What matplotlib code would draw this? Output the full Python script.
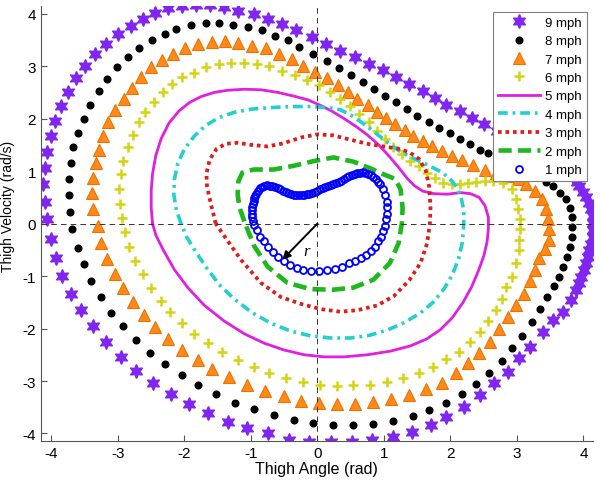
import numpy as np
import matplotlib
matplotlib.use('Agg')
import matplotlib.pyplot as plt

# thigh angle (rad), thigh velocity (rad/s), one loop per speed
mph9 = [(-4.07, 0.08), (-4.09, 0.41), (-4.12, 0.75), (-4.10, 1.06), (-4.07, 1.36), (-4.01, 1.67),
        (-3.95, 1.96), (-3.86, 2.24), (-3.75, 2.51), (-3.63, 2.77), (-3.50, 3.01), (-3.34, 3.23),
        (-3.18, 3.42), (-3.00, 3.61), (-2.80, 3.77), (-2.63, 3.90), (-2.44, 4.02), (-2.25, 4.10),
        (-2.04, 4.15), (-1.83, 4.17), (-1.62, 4.17), (-1.40, 4.12), (-1.19, 4.06), (-0.96, 4.00),
        (-0.75, 3.90), (-0.53, 3.80), (-0.33, 3.68), (-0.08, 3.55), (0.13, 3.42), (0.34, 3.29),
        (0.56, 3.17), (0.77, 3.04), (0.98, 2.93), (1.18, 2.80), (1.38, 2.66), (1.58, 2.53),
        (1.77, 2.40), (1.94, 2.26), (2.14, 2.15), (2.33, 2.02), (2.50, 1.89), (2.70, 1.76),
        (2.89, 1.61), (3.09, 1.45), (3.30, 1.30), (3.49, 1.17), (3.67, 1.03), (3.84, 0.88),
        (3.90, 0.80), (3.94, 0.71), (3.99, 0.61), (4.04, 0.50), (4.08, 0.39), (4.12, 0.27),
        (4.14, 0.14), (4.15, 0.02), (4.15, -0.12), (4.14, -0.25), (4.12, -0.38), (4.09, -0.50),
        (4.07, -0.63), (4.04, -0.75), (4.01, -0.88), (3.97, -1.01), (3.93, -1.14), (3.89, -1.26),
        (3.81, -1.45), (3.69, -1.68), (3.54, -1.84), (3.39, -2.07), (3.20, -2.35), (3.03, -2.57),
        (2.87, -2.83), (2.65, -3.04), (2.44, -3.27), (2.21, -3.50), (1.94, -3.69), (1.70, -3.84),
        (1.42, -3.97), (1.13, -4.07), (0.82, -4.13), (0.52, -4.17), (0.21, -4.17), (-0.12, -4.17),
        (-0.43, -4.12), (-0.75, -4.00), (-1.06, -3.90), (-1.35, -3.78), (-1.65, -3.61), (-1.93, -3.44),
        (-2.20, -3.25), (-2.48, -3.04), (-2.73, -2.80), (-2.95, -2.54), (-3.18, -2.25), (-3.38, -1.96),
        (-3.55, -1.64), (-3.70, -1.34), (-3.84, -1.00), (-3.93, -0.66), (-4.01, -0.30)]

mph8 = [(-3.69, -0.11), (-3.72, 0.22), (-3.74, 0.54), (-3.74, 0.84), (-3.71, 1.15), (-3.68, 1.45),
        (-3.60, 1.73), (-3.51, 2.00), (-3.42, 2.26), (-3.29, 2.53), (-3.16, 2.75), (-3.01, 2.98),
        (-2.85, 3.17), (-2.68, 3.34), (-2.49, 3.50), (-2.30, 3.61), (-2.12, 3.71), (-1.90, 3.79),
        (-1.68, 3.82), (-1.48, 3.82), (-1.27, 3.79), (-1.05, 3.74), (-0.84, 3.68), (-0.64, 3.58),
        (-0.45, 3.49), (-0.28, 3.37), (-0.06, 3.23), (0.15, 3.10), (0.32, 2.96), (0.51, 2.83),
        (0.69, 2.69), (0.85, 2.56), (1.02, 2.43), (1.18, 2.31), (1.34, 2.18), (1.50, 2.05),
        (1.67, 1.94), (1.83, 1.83), (1.99, 1.72), (2.15, 1.61), (2.30, 1.51), (2.44, 1.41),
        (2.57, 1.34), (2.74, 1.22), (2.92, 1.11), (3.12, 0.99), (3.31, 0.88), (3.44, 0.80),
        (3.54, 0.71), (3.64, 0.59), (3.74, 0.46), (3.79, 0.30), (3.82, 0.13), (3.83, -0.06),
        (3.82, -0.25), (3.79, -0.44), (3.75, -0.63), (3.69, -0.82), (3.63, -1.01), (3.55, -1.19),
        (3.45, -1.40), (3.34, -1.63), (3.22, -1.88), (3.08, -2.14), (2.93, -2.37), (2.77, -2.62),
        (2.58, -2.85), (2.39, -3.06), (2.18, -3.25), (1.93, -3.42), (1.67, -3.56), (1.43, -3.67),
        (1.14, -3.77), (0.84, -3.81), (0.54, -3.83), (0.24, -3.83), (-0.06, -3.80), (-0.36, -3.75),
        (-0.66, -3.65), (-0.96, -3.54), (-1.24, -3.41), (-1.52, -3.25), (-1.79, -3.08), (-2.04, -2.89),
        (-2.29, -2.68), (-2.52, -2.46), (-2.73, -2.22), (-2.92, -1.96), (-3.10, -1.70), (-3.26, -1.40),
        (-3.40, -1.10), (-3.51, -0.77), (-3.60, -0.46)]

mph7 = [(-3.30, -0.05), (-3.38, 0.27), (-3.39, 0.59), (-3.38, 0.87), (-3.33, 1.16), (-3.29, 1.40),
        (-3.23, 1.67), (-3.15, 1.93), (-3.04, 2.16), (-2.91, 2.38), (-2.79, 2.59), (-2.65, 2.80),
        (-2.50, 2.98), (-2.34, 3.12), (-2.17, 3.24), (-1.99, 3.34), (-1.80, 3.42), (-1.59, 3.46),
        (-1.39, 3.47), (-1.19, 3.44), (-0.98, 3.39), (-0.78, 3.34), (-0.58, 3.23), (-0.38, 3.14),
        (-0.21, 3.01), (-0.03, 2.88), (0.15, 2.77), (0.31, 2.64), (0.46, 2.50), (0.60, 2.37),
        (0.76, 2.26), (0.90, 2.13), (1.03, 2.02), (1.17, 1.89), (1.31, 1.78), (1.44, 1.67),
        (1.58, 1.57), (1.72, 1.48), (1.87, 1.38), (2.02, 1.29), (2.17, 1.21), (2.34, 1.11),
        (2.52, 1.03), (2.69, 0.97), (2.87, 0.90), (3.02, 0.84), (3.14, 0.75), (3.27, 0.62),
        (3.37, 0.46), (3.44, 0.27), (3.47, 0.08), (3.48, -0.11), (3.48, -0.31), (3.42, -0.48),
        (3.33, -0.66), (3.27, -0.88), (3.19, -1.10), (3.10, -1.34), (2.99, -1.55), (2.87, -1.78),
        (2.73, -2.01), (2.59, -2.25), (2.43, -2.46), (2.27, -2.66), (2.08, -2.85), (1.88, -3.03),
        (1.63, -3.16), (1.37, -3.26), (1.10, -3.35), (0.84, -3.40), (0.57, -3.43), (0.30, -3.43),
        (0.03, -3.42), (-0.25, -3.38), (-0.51, -3.28), (-0.79, -3.19), (-1.06, -3.07), (-1.33, -2.93),
        (-1.59, -2.78), (-1.80, -2.60), (-2.04, -2.41), (-2.25, -2.20), (-2.45, -1.98), (-2.61, -1.74),
        (-2.78, -1.49), (-2.93, -1.23), (-3.05, -0.96), (-3.17, -0.67), (-3.26, -0.37)]

mph6 = [(-2.94, 0.11), (-2.97, 0.38), (-2.98, 0.65), (-2.96, 0.94), (-2.92, 1.19), (-2.85, 1.45),
        (-2.78, 1.68), (-2.68, 1.93), (-2.60, 2.12), (-2.46, 2.32), (-2.33, 2.50), (-2.19, 2.66),
        (-2.04, 2.79), (-1.86, 2.87), (-1.68, 2.98), (-1.48, 3.04), (-1.30, 3.06), (-1.11, 3.06),
        (-0.91, 3.04), (-0.73, 3.00), (-0.53, 2.91), (-0.34, 2.83), (-0.15, 2.74), (0.02, 2.64),
        (0.19, 2.51), (0.34, 2.38), (0.49, 2.24), (0.63, 2.08), (0.77, 1.93), (0.90, 1.76),
        (1.02, 1.61), (1.14, 1.45), (1.27, 1.32), (1.39, 1.20), (1.52, 1.10), (1.64, 0.97),
        (1.77, 0.87), (1.89, 0.78), (2.02, 0.75), (2.14, 0.75), (2.27, 0.78), (2.39, 0.79),
        (2.52, 0.81), (2.64, 0.81), (2.79, 0.78), (2.92, 0.65), (2.99, 0.46), (3.02, 0.27),
        (3.04, 0.08), (3.04, -0.11), (3.03, -0.31), (3.03, -0.50), (2.99, -0.75), (2.92, -1.01),
        (2.84, -1.20), (2.77, -1.43), (2.68, -1.64), (2.57, -1.85), (2.44, -2.06), (2.29, -2.25),
        (2.13, -2.44), (1.93, -2.58), (1.73, -2.74), (1.52, -2.84), (1.29, -2.94), (1.05, -3.02),
        (0.79, -3.07), (0.54, -3.08), (0.30, -3.09), (0.04, -3.07), (-0.21, -3.02), (-0.48, -2.94),
        (-0.73, -2.84), (-0.96, -2.74), (-1.20, -2.60), (-1.44, -2.45), (-1.65, -2.28), (-1.85, -2.10),
        (-2.04, -1.89), (-2.21, -1.68), (-2.36, -1.47), (-2.50, -1.22), (-2.63, -0.96), (-2.74, -0.72),
        (-2.84, -0.45), (-2.90, -0.17)]

mph5 = [(-2.48, 0.00), (-2.50, 0.30), (-2.50, 0.62), (-2.48, 0.95), (-2.43, 1.30), (-2.35, 1.62),
        (-2.23, 1.92), (-2.08, 2.15), (-1.92, 2.31), (-1.75, 2.42), (-1.55, 2.50), (-1.35, 2.54),
        (-1.10, 2.56), (-0.85, 2.55), (-0.60, 2.50), (-0.36, 2.43), (-0.15, 2.36), (0.05, 2.25),
        (0.22, 2.14), (0.40, 2.00), (0.58, 1.85), (0.75, 1.69), (0.92, 1.50), (1.08, 1.28),
        (1.22, 1.07), (1.35, 0.86), (1.46, 0.72), (1.58, 0.62), (1.75, 0.57), (1.95, 0.56),
        (2.15, 0.59), (2.30, 0.57), (2.43, 0.50), (2.52, 0.34), (2.57, 0.12), (2.57, -0.10),
        (2.55, -0.35), (2.50, -0.62), (2.42, -0.90), (2.32, -1.20), (2.19, -1.50), (2.03, -1.79),
        (1.85, -2.02), (1.64, -2.20), (1.40, -2.33), (1.10, -2.43), (0.75, -2.50), (0.40, -2.54),
        (0.10, -2.54), (-0.20, -2.50), (-0.50, -2.41), (-0.80, -2.28), (-1.10, -2.10), (-1.40, -1.86),
        (-1.70, -1.56), (-1.95, -1.22), (-2.15, -0.88), (-2.32, -0.50), (-2.43, -0.22)]

mph4 = [(-2.05, 0.00), (-2.12, 0.25), (-2.16, 0.55), (-2.15, 0.85), (-2.10, 1.15), (-2.00, 1.42),
        (-1.85, 1.67), (-1.68, 1.87), (-1.48, 2.02), (-1.25, 2.12), (-1.00, 2.18), (-0.70, 2.21),
        (-0.40, 2.23), (-0.10, 2.23), (0.15, 2.21), (0.34, 2.17), (0.50, 2.07), (0.65, 1.94),
        (0.80, 1.80), (0.95, 1.65), (1.10, 1.50), (1.25, 1.37), (1.40, 1.27), (1.55, 1.18),
        (1.70, 1.09), (1.85, 0.99), (1.98, 0.87), (2.09, 0.70), (2.16, 0.50), (2.20, 0.25),
        (2.20, 0.00), (2.18, -0.35), (2.12, -0.68), (2.03, -0.97), (1.90, -1.25), (1.74, -1.50),
        (1.54, -1.71), (1.30, -1.89), (1.05, -2.03), (0.78, -2.13), (0.50, -2.18), (0.20, -2.18),
        (-0.10, -2.14), (-0.40, -2.05), (-0.70, -1.90), (-0.98, -1.70), (-1.25, -1.44), (-1.48, -1.16),
        (-1.68, -0.82), (-1.85, -0.50), (-1.97, -0.25)]

mph3 = [(-1.53, 0.00), (-1.60, 0.36), (-1.66, 0.70), (-1.67, 0.95), (-1.62, 1.22), (-1.52, 1.42),
        (-1.38, 1.52), (-1.20, 1.54), (-1.00, 1.50), (-0.75, 1.47), (-0.51, 1.53), (-0.25, 1.64),
        (0.00, 1.70), (0.24, 1.68), (0.49, 1.60), (0.75, 1.52), (0.99, 1.47), (1.20, 1.43),
        (1.38, 1.36), (1.53, 1.23), (1.63, 1.00), (1.68, 0.70), (1.70, 0.30), (1.69, 0.00),
        (1.65, -0.37), (1.55, -0.75), (1.38, -1.08), (1.15, -1.38), (0.90, -1.56), (0.60, -1.65),
        (0.34, -1.68), (0.05, -1.63), (-0.25, -1.53), (-0.55, -1.40), (-0.85, -1.13), (-1.15, -0.69),
        (-1.40, -0.24)]

mph2 = [(-1.10, 0.04), (-1.17, 0.30), (-1.20, 0.55), (-1.19, 0.80), (-1.13, 0.97), (-0.96, 1.03),
        (-0.66, 1.03), (-0.36, 1.10), (-0.06, 1.19), (0.24, 1.26), (0.54, 1.18), (0.80, 1.05),
        (0.99, 0.94), (1.17, 0.85), (1.25, 0.65), (1.28, 0.30), (1.27, 0.01), (1.22, -0.37),
        (1.09, -0.75), (0.84, -1.07), (0.54, -1.22), (0.24, -1.26), (-0.10, -1.25), (-0.45, -1.13),
        (-0.75, -0.82), (-0.95, -0.43)]

mph1 = [(-0.96, -0.02), (-0.97, 0.05), (-0.98, 0.12), (-0.99, 0.19), (-0.99, 0.26), (-0.98, 0.32),
        (-0.97, 0.38), (-0.96, 0.43), (-0.95, 0.48), (-0.94, 0.52), (-0.92, 0.57), (-0.90, 0.62),
        (-0.87, 0.67), (-0.84, 0.70), (-0.80, 0.72), (-0.76, 0.73), (-0.72, 0.72), (-0.68, 0.71),
        (-0.64, 0.69), (-0.60, 0.67), (-0.56, 0.65), (-0.52, 0.62), (-0.48, 0.60), (-0.44, 0.58),
        (-0.40, 0.56), (-0.36, 0.55), (-0.32, 0.54), (-0.28, 0.54), (-0.24, 0.54), (-0.20, 0.55),
        (-0.16, 0.56), (-0.12, 0.57), (-0.08, 0.59), (-0.04, 0.61), (0.00, 0.63), (0.04, 0.65),
        (0.08, 0.67), (0.12, 0.70), (0.16, 0.72), (0.20, 0.74), (0.24, 0.76), (0.28, 0.78),
        (0.32, 0.80), (0.36, 0.82), (0.40, 0.85), (0.44, 0.88), (0.48, 0.90), (0.52, 0.92),
        (0.56, 0.95), (0.60, 0.96), (0.64, 0.97), (0.68, 0.98), (0.72, 0.97), (0.76, 0.95),
        (0.80, 0.93), (0.84, 0.89), (0.88, 0.84), (0.91, 0.80), (0.94, 0.75), (0.99, 0.65),
        (1.02, 0.54), (1.05, 0.42), (1.05, 0.31), (1.05, 0.19), (1.03, 0.08), (1.02, -0.04),
        (0.99, -0.15), (0.96, -0.25), (0.91, -0.34), (0.87, -0.44), (0.81, -0.52), (0.73, -0.59),
        (0.66, -0.65), (0.57, -0.71), (0.48, -0.76), (0.37, -0.82), (0.27, -0.86), (0.15, -0.89),
        (0.03, -0.91), (-0.09, -0.91), (-0.21, -0.89), (-0.31, -0.85), (-0.42, -0.79), (-0.51, -0.72),
        (-0.60, -0.63), (-0.67, -0.54), (-0.75, -0.44), (-0.81, -0.34), (-0.87, -0.25), (-0.91, -0.13)]

arrow_tip = (-0.53, -0.69)


def loop(pts, close=False):
    a = np.array(pts)
    if close:
        a = np.vstack([a, a[:1]])
    return a[:, 0], a[:, 1]


plt.rcParams['font.family'] = ['Liberation Sans', 'DejaVu Sans']
plt.rcParams['lines.scale_dashes'] = False
plt.rcParams['axes.unicode_minus'] = False

fig = plt.figure(figsize=(6, 4.85), dpi=100)
ax = fig.add_axes([0.068, 0.089, 0.92, 0.897])

x, y = loop(mph9)
ax.plot(x, y, ls='none', marker=(6, 1, 0), ms=10, color='#8026F0', mec='#8026F0', label='9 mph')
x, y = loop(mph8)
ax.plot(x, y, ls='none', marker='o', ms=4.8, color='k', label='8 mph')
x, y = loop(mph7)
ax.plot(x, y, ls='none', marker='^', ms=9, color='#FF8A1A', mec='#F07000', mew=0.8, label='7 mph')
x, y = loop(mph6)
ax.plot(x, y, ls='none', marker='+', ms=6.5, mew=1.8, color='#D4D414', label='6 mph')
x, y = loop(mph5, True)
ax.plot(x, y, color='#E01FE0', lw=2.0, label='5 mph')
x, y = loop(mph4, True)
ax.plot(x, y, color='#22D0D0', lw=2.6, ls=(0, (7, 3.5, 2, 3.5)), label='4 mph')
x, y = loop(mph3, True)
ax.plot(x, y, color='#E01B1B', lw=2.7, ls=(0, (2.6, 2.8)), dash_capstyle='butt', label='3 mph')
x, y = loop(mph2, True)
ax.plot(x, y, color='#1DB81D', lw=3.3, ls=(0, (9.5, 4.5)), label='2 mph')
x, y = loop(mph1)
ax.plot(x, y, ls='none', marker='o', ms=5, mfc='none', mec='#0000FF', mew=1.3, label='1 mph')

ax.axhline(0, color='#333333', lw=0.7, ls=(0, (4, 3)), zorder=5)
ax.axvline(0, color='#333333', lw=0.7, ls=(0, (4, 3)), zorder=5)

ax.annotate('', xy=arrow_tip, xytext=(0, 0), zorder=6,
            arrowprops=dict(arrowstyle='-|>', color='k', lw=1.4, mutation_scale=12,
                            shrinkA=0, shrinkB=0))
ax.text(-0.16, -0.53, 'r', family='Liberation Serif', style='italic', fontsize=12,
        ha='center', va='center', zorder=6)

ax.set_xlim(-4.16, 4.14)
ax.set_ylim(-4.14, 4.15)
ax.set_xticks(range(-4, 5))
ax.set_yticks(range(-4, 5))
ax.tick_params(direction='in', length=4, labelsize=11, color='#555555')
for s in ['top', 'right']:
    ax.spines[s].set_visible(False)
for s in ['left', 'bottom']:
    ax.spines[s].set_color('#555555')
ax.set_xlabel('Thigh Angle (rad)', fontsize=11.5, labelpad=1)
ax.set_ylabel('Thigh Velocity (rad/s)', fontsize=10)
ax.yaxis.set_label_coords(-0.046, 0.54)

leg = ax.legend(loc='upper right', bbox_to_anchor=(0.989, 0.986), borderaxespad=0,
                numpoints=1, fontsize=9.5, handlelength=3.2, labelspacing=0.47,
                handletextpad=0.4, borderpad=0.35, fancybox=False, framealpha=1,
                edgecolor='#808080')
leg.get_frame().set_linewidth(0.8)
leg.set_zorder(10)

fig.savefig('out.png', dpi=100)
